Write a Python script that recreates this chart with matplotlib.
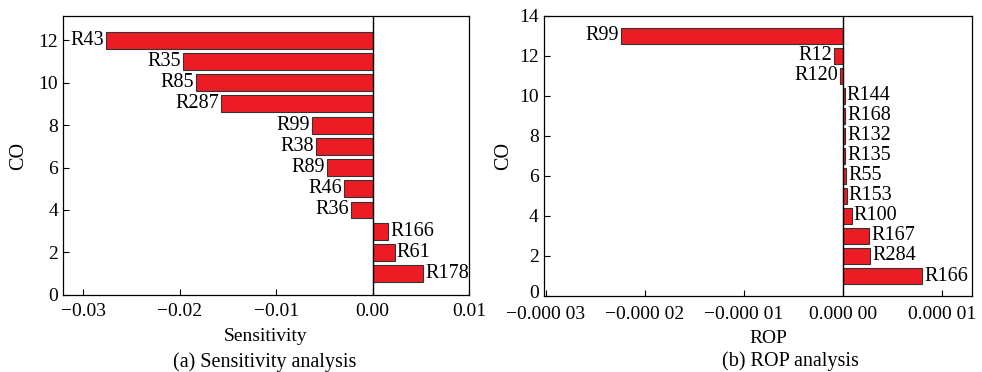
import matplotlib.pyplot as plt
from matplotlib.ticker import FuncFormatter
from matplotlib.transforms import ScaledTranslation

plt.rcParams["font.family"] = ["Liberation Serif", "DejaVu Serif"]
plt.rcParams["font.size"] = 14

# (a) sensitivity, bottom to top
sens_labels = ["R178", "R61", "R166", "R36", "R46", "R89", "R38", "R99",
               "R287", "R85", "R35", "R43"]
sens_values = [0.00525, 0.00231, 0.00162, -0.00225, -0.00294, -0.00477,
               -0.00588, -0.00626, -0.01572, -0.01831, -0.01969, -0.02764]

# (b) ROP, bottom to top
rop_labels = ["R166", "R284", "R167", "R100", "R153", "R55", "R135", "R132",
              "R168", "R144", "R120", "R12", "R99"]
rop_values = [8.0e-6, 2.76e-6, 2.62e-6, 8.5e-7, 3.7e-7, 3.4e-7, 2.2e-7,
              2.2e-7, 2.0e-7, 1.7e-7, -3.3e-7, -9.1e-7, -2.239e-5]

BAR_RED = "#ed1c24"


def bar_panel(ax, labels, values):
    pos = range(1, len(values) + 1)
    ax.barh(pos, values, height=0.8, color=BAR_RED, edgecolor="#333333", linewidth=0.8)
    ax.axvline(0, color="black", linewidth=1)
    for y, v, name in zip(pos, values, labels):
        ha = "left" if v >= 0 else "right"
        dx = 1.5 if v >= 0 else -1.5
        ax.annotate(name, (v, y), xytext=(dx, 0), textcoords="offset points",
                    ha=ha, va="center", fontsize=14.5)
    ax.tick_params(direction="in", length=4, width=0.8)
    ax.tick_params(axis="x", pad=6)
    for s in ax.spines.values():
        s.set_linewidth(0.9)
    ax.set_ylabel("CO", fontsize=14.5)


def spaced(x, _):
    s = f"{abs(x):.5f}"
    s = s[:-2] + " " + s[-2:]
    return ("\u2212" if x < -1e-12 else "") + s


def plain(x, _):
    s = f"{abs(x):.2f}"
    return ("\u2212" if x < -1e-12 else "") + s


fig = plt.figure(figsize=(9.82, 3.72), dpi=100)

ax1 = fig.add_axes([0.0642, 0.207, 0.4134, 0.750])
bar_panel(ax1, sens_labels, sens_values)
ax1.set_xlim(-0.0321, 0.01)
ax1.set_ylim(0, 13.13)
ax1.set_xticks([-0.03, -0.02, -0.01, 0.0, 0.01])
ax1.set_yticks(range(0, 13, 2))
ax1.xaxis.set_major_formatter(FuncFormatter(plain))
ax1.set_xlabel("Sensitivity")
ax1.xaxis.set_label_coords(0.5, -0.118)
ax1.yaxis.set_label_coords(-0.086, 0.5)

ax2 = fig.add_axes([0.5537, 0.2043, 0.4361, 0.7527])
bar_panel(ax2, rop_labels, rop_values)
ax2.set_xlim(-3.02e-5, 1.3e-5)
ax2.set_ylim(0, 14)
ax2.set_xticks([-3e-5, -2e-5, -1e-5, 0.0, 1e-5])
ax2.set_yticks(range(0, 15, 2))
ax2.xaxis.set_major_formatter(FuncFormatter(spaced))
ax2.tick_params(axis="x", pad=7)
ax2.set_xlabel("ROP")
ax2.xaxis.set_label_coords(0.524, -0.122)
ax2.yaxis.set_label_coords(-0.072, 0.5)

# nudge the bottom "0" up a little so it clears the first x tick label
fig.canvas.draw()
zero_lbl = ax2.get_yticklabels()[0]
zero_lbl.set_transform(zero_lbl.get_transform()
                       + ScaledTranslation(0, 3 / 72, fig.dpi_scale_trans))

fig.text(0.270, 0.026, "(a) Sensitivity analysis", ha="center", va="center", fontsize=14.5)
fig.text(0.805, 0.030, "(b) ROP analysis", ha="center", va="center", fontsize=14.5)

fig.savefig("out.png", dpi=100)
